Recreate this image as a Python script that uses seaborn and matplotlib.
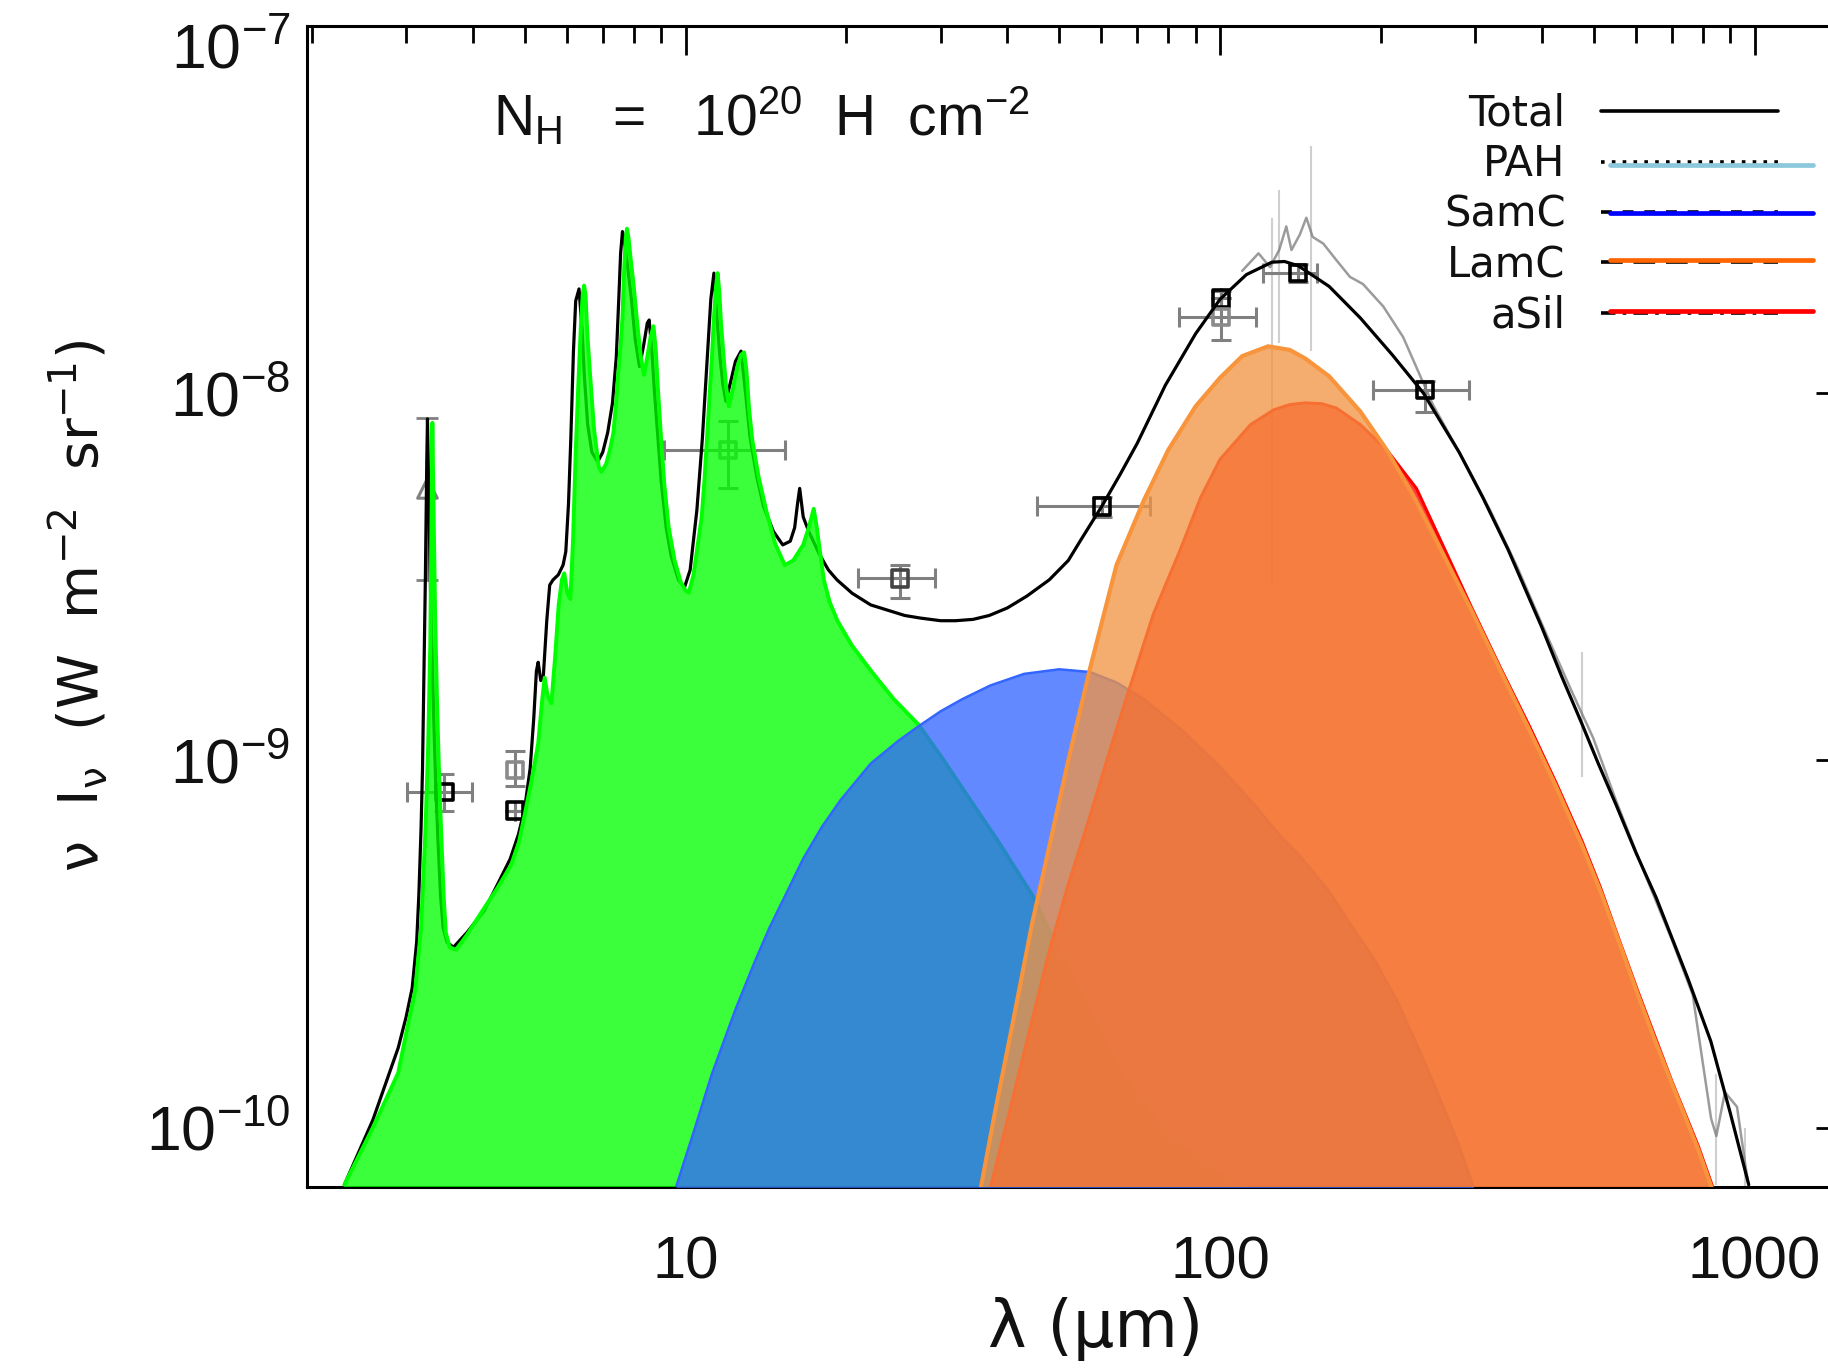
import matplotlib
matplotlib.use("Agg")
import matplotlib.pyplot as plt
import seaborn as sns
from matplotlib.lines import Line2D
from matplotlib.legend_handler import HandlerTuple, HandlerLine2D
from matplotlib.ticker import FixedLocator, FixedFormatter, LogLocator, NullFormatter

# ---------------- data (wavelength in micron, nu I_nu in W m^-2 sr^-1) ----------------
total_wl = [2.30, 2.60, 2.90, 3.00, 3.08, 3.14, 3.17, 3.20, 3.22, 3.24, 3.26, 3.28, 3.29, 3.31,
            3.34, 3.38, 3.41, 3.44, 3.48, 3.52, 3.58, 3.68, 3.90, 4.20, 4.45, 4.70, 4.87, 5.00,
            5.12, 5.20, 5.26, 5.30, 5.36, 5.42, 5.50, 5.57, 5.65, 5.78, 5.90, 5.97, 6.04, 6.10,
            6.17, 6.23, 6.32, 6.40, 6.47, 6.56, 6.68, 6.85, 7.00, 7.15, 7.30, 7.42, 7.50, 7.56,
            7.62, 7.68, 7.78, 7.92, 8.05, 8.20, 8.35, 8.48, 8.55, 8.65, 8.75, 8.90, 9.00, 9.20,
            9.40, 9.70, 9.95, 10.2, 10.5, 10.75, 10.9, 11.0, 11.15, 11.3, 11.45, 11.6, 11.75,
            11.9, 12.1, 12.4, 12.7, 12.95, 13.2, 13.6, 14.0, 14.6, 15.2, 15.7, 16.0, 16.2, 16.35,
            16.6, 17.0, 17.8, 18.5, 19.2, 20.5, 22.2, 25.7, 27.5, 30.0, 32.0, 34.5, 37.0, 40.0,
            43.5, 47.9, 52.0, 55.0, 60.0, 65.0, 70.0, 79.0, 90.0, 100, 112, 125, 132, 140, 160,
            183, 210, 240, 280, 310, 346, 400, 435, 475, 510, 550, 600, 654, 750, 828, 900, 975]
total_val = [7.0e-11, 1.05e-10, 1.65e-10, 2.0e-10, 2.4e-10, 3.2e-10, 4.3e-10, 6.5e-10, 9.4e-10,
             1.7e-9, 3.1e-9, 6.5e-9, 8.5e-9, 5.0e-9,
             2.5e-9, 1.3e-9, 8.5e-10, 6.2e-10, 4.3e-10, 3.5e-10, 3.2e-10, 3.1e-10, 3.4e-10,
             3.9e-10, 4.6e-10, 5.4e-10, 6.3e-10, 7.4e-10,
             9.5e-10, 1.3e-9, 1.75e-9, 1.85e-9, 1.65e-9, 1.7e-9, 2.4e-9, 3.0e-9, 3.1e-9, 3.2e-9,
             3.4e-9, 3.7e-9, 5.0e-9, 7.5e-9,
             1.3e-8, 1.78e-8, 1.92e-8, 1.5e-8, 1.1e-8, 8.2e-9, 6.9e-9, 6.5e-9, 6.9e-9, 7.8e-9,
             9.4e-9, 1.25e-8, 1.8e-8, 2.4e-8,
             2.75e-8, 2.6e-8, 2.25e-8, 1.8e-8, 1.4e-8, 1.18e-8, 1.35e-8, 1.55e-8, 1.58e-8,
             1.3e-8, 1.0e-8, 7.2e-9, 5.8e-9, 4.3e-9,
             3.6e-9, 3.1e-9, 2.95e-9, 3.3e-9, 4.8e-9, 7.5e-9, 1.05e-8, 1.3e-8, 1.8e-8, 2.12e-8,
             1.6e-8, 1.25e-8, 1.05e-8,
             9.5e-9, 1.05e-8, 1.22e-8, 1.3e-8, 1.0e-8, 7.6e-9, 5.9e-9, 4.9e-9, 4.2e-9, 3.86e-9,
             3.95e-9, 4.3e-9, 5.0e-9, 5.5e-9,
             4.6e-9, 4.2e-9, 3.64e-9, 3.3e-9, 3.1e-9, 2.85e-9, 2.65e-9, 2.48e-9, 2.44e-9, 2.4e-9,
             2.4e-9, 2.42e-9, 2.48e-9, 2.6e-9,
             2.8e-9, 3.1e-9, 3.5e-9, 4.0e-9, 4.9e-9, 6.0e-9, 7.3e-9, 1.05e-8, 1.45e-8, 1.8e-8,
             2.1e-8, 2.27e-8, 2.28e-8, 2.22e-8, 1.95e-8,
             1.6e-8, 1.27e-8, 1.0e-8, 6.9e-9, 5.2e-9, 3.74e-9, 2.3e-9, 1.7e-9, 1.26e-9, 9.8e-10,
             7.6e-10, 5.6e-10, 4.24e-10, 2.55e-10, 1.72e-10, 1.1e-10, 7.0e-11]

pah_wl = [2.30, 2.60, 2.90, 3.00, 3.12, 3.20, 3.26, 3.30, 3.33, 3.35, 3.36, 3.38, 3.40, 3.43,
          3.46, 3.49, 3.53, 3.56, 3.62, 3.72, 3.90, 4.19, 4.45, 4.72, 4.88, 5.00, 5.15, 5.30,
          5.39, 5.45, 5.52, 5.61, 5.70, 5.79, 5.87, 5.93, 6.01, 6.09, 6.16, 6.23, 6.30, 6.37,
          6.42, 6.46, 6.50, 6.55, 6.62, 6.74, 6.88, 6.96, 7.10, 7.22, 7.33, 7.42, 7.49, 7.56,
          7.62, 7.68, 7.73, 7.77, 7.82, 7.90, 8.00, 8.12, 8.25, 8.36, 8.48, 8.60, 8.71, 8.80,
          8.87, 9.00, 9.13, 9.30, 9.54, 9.80, 10.0, 10.14, 10.35, 10.55, 10.72, 10.85, 10.96,
          11.1, 11.2, 11.3, 11.40, 11.48, 11.56, 11.65, 11.79, 11.9, 12.05, 12.25, 12.5, 12.7,
          12.87, 13.0, 13.15, 13.34, 13.7, 14.15, 14.7, 15.33, 15.9, 16.6, 17.0, 17.37, 17.6,
          18.14, 18.6, 19.23, 20.5, 22.25, 24.5, 27.3, 30.0, 33.6, 38.5, 44.7, 50.0, 55.0, 65.0,
          80.0, 100, 120]
pah_val = [7.0e-11, 1.0e-10, 1.41e-10, 1.8e-10, 2.36e-10, 3.5e-10, 6.35e-10, 1.1e-9, 2.09e-9,
           5.0e-9, 8.3e-9, 4.5e-9, 2.5e-9, 1.4e-9,
           9.0e-10, 6.35e-10, 4.2e-10, 3.4e-10, 3.1e-10, 3.05e-10, 3.35e-10, 3.94e-10, 4.5e-10,
           5.2e-10, 6.0e-10, 7.1e-10, 8.8e-10, 1.11e-9,
           1.45e-9, 1.68e-9, 1.5e-9, 1.43e-9, 1.9e-9, 2.65e-9, 3.1e-9, 3.23e-9, 2.85e-9, 2.75e-9,
           4.0e-9, 6.9e-9, 1.05e-8, 1.52e-8,
           1.85e-8, 1.96e-8, 1.85e-8, 1.45e-8, 1.15e-8, 8.0e-9, 6.3e-9, 6.1e-9, 6.4e-9, 7.0e-9,
           7.8e-9, 9.5e-9, 1.15e-8, 1.35e-8,
           1.6e-8, 2.2e-8, 2.65e-8, 2.8e-8, 2.65e-8, 2.3e-8, 1.95e-8, 1.55e-8, 1.25e-8, 1.12e-8,
           1.25e-8, 1.42e-8, 1.52e-8, 1.3e-8,
           1.05e-8, 7.5e-9, 5.6e-9, 4.3e-9, 3.5e-9, 3.05e-9, 2.9e-9, 2.86e-9, 3.2e-9, 3.9e-9,
           4.6e-9, 5.8e-9, 7.4e-9,
           1.0e-8, 1.24e-8, 1.6e-8, 1.95e-8, 2.12e-8, 1.9e-8, 1.55e-8, 1.24e-8, 1.05e-8, 9.2e-9,
           1.02e-8, 1.18e-8, 1.27e-8,
           1.29e-8, 1.15e-8, 9.0e-9, 7.4e-9, 5.9e-9, 4.8e-9, 3.9e-9, 3.4e-9, 3.5e-9, 3.86e-9,
           4.3e-9, 4.84e-9, 4.3e-9,
           3.1e-9, 2.7e-9, 2.4e-9, 2.05e-9, 1.75e-9, 1.47e-9, 1.25e-9, 1.03e-9, 8.05e-10,
           6.0e-10, 4.26e-10, 3.0e-10, 2.3e-10, 1.4e-10,
           9.5e-11, 7.4e-11, 6.5e-11]

samc_wl = [9.6, 10.3, 11.2, 12.4, 13.5, 14.35, 15.5, 16.6, 18.0, 19.5, 22.2, 25.0, 27.1, 30.0,
           33.0, 37.2, 43.0, 50.0, 57.1, 64.0, 72.0, 85.3, 100, 114, 130, 141, 160, 175, 195,
           215, 235, 255, 278, 298]
samc_val = [6.9e-11, 9.5e-11, 1.4e-10, 2.1e-10, 2.85e-10, 3.5e-10, 4.4e-10, 5.4e-10, 6.6e-10,
            7.8e-10, 9.8e-10, 1.13e-9, 1.23e-9, 1.36e-9,
            1.47e-9, 1.6e-9, 1.72e-9, 1.77e-9, 1.74e-9, 1.63e-9, 1.47e-9, 1.2e-9, 9.6e-10,
            7.8e-10, 6.2e-10, 5.5e-10, 4.4e-10, 3.6e-10, 2.85e-10,
            2.2e-10, 1.65e-10, 1.25e-10, 9.2e-11, 6.9e-11]

lamc_wl = [35.7, 38.0, 41.0, 44.5, 48.0, 52.0, 57.0, 64.0, 72.0, 80.0, 90.0, 100, 110, 123, 135,
           144.5, 160, 183, 205, 230, 260, 295, 335, 380, 425, 475, 515, 560, 605, 654, 700,
           740, 785, 830]
lamc_val = [6.9e-11, 1.12e-10, 1.95e-10, 3.6e-10, 5.9e-10, 1.0e-9, 1.76e-9, 3.4e-9, 5.1e-9,
            7.0e-9, 9.2e-9, 1.1e-8, 1.26e-8, 1.34e-8, 1.31e-8,
            1.24e-8, 1.11e-8, 8.9e-9, 7.0e-9, 5.25e-9, 3.7e-9, 2.57e-9, 1.75e-9, 1.2e-9, 8.5e-10,
            5.9e-10, 4.4e-10, 3.15e-10, 2.3e-10, 1.7e-10, 1.32e-10,
            1.08e-10, 8.7e-11, 6.9e-11]

asil_wl = [37.2, 40.0, 42.5, 45.0, 48.1, 52.0, 57.0, 62.0, 67.0, 75.0, 84.2, 92.0, 100, 114, 126,
           135, 144.5, 155, 165, 183, 205, 233, 260, 295, 335, 380, 425, 475, 515, 560, 605,
           654, 700, 740, 785, 835]
asil_val = [6.9e-11, 1.05e-10, 1.5e-10, 2.1e-10, 3.1e-10, 4.6e-10, 7.0e-10, 1.05e-9, 1.5e-9,
            2.5e-9, 3.74e-9, 5.2e-9, 6.6e-9, 8.2e-9, 9.0e-9,
            9.3e-9, 9.4e-9, 9.35e-9, 9.1e-9, 8.2e-9, 7.0e-9, 5.5e-9, 3.9e-9, 2.62e-9, 1.78e-9,
            1.23e-9, 8.7e-10, 6.05e-10, 4.5e-10, 3.2e-10, 2.35e-10,
            1.74e-10, 1.34e-10, 1.1e-10, 8.9e-11, 6.9e-11]

# photometric points
phot_wl = [3.54, 4.8, 4.8, 12.0, 25.2, 60.1, 100.4, 100.4, 140, 242]
phot_val = [8.2e-10, 7.3e-10, 9.4e-10, 7.0e-9, 3.13e-9, 4.91e-9, 1.81e-8, 1.61e-8, 2.12e-8, 1.02e-8]
phot_xlo = [3.01, 4.8, 4.8, 9.13, 21.0, 45.5, 100.4, 83.7, 120.5, 193.6]
phot_xhi = [3.98, 4.8, 4.8, 15.33, 29.3, 74.0, 100.4, 116.6, 152, 291.7]
phot_ylo = [7.3e-10, 7.3e-10, 8.5e-10, 5.5e-9, 2.76e-9, 4.6e-9, 1.81e-8, 1.39e-8, 2.0e-8, 8.9e-9]
phot_yhi = [9.2e-10, 7.3e-10, 1.06e-9, 8.4e-9, 3.4e-9, 5.2e-9, 1.81e-8, 1.9e-8, 2.25e-8, 1.08e-8]
phot_edge = ["black", "black", "#8a8a8a", "#8a8a8a", "#444444", "black", "black", "#8a8a8a",
             "black", "black"]

tri_wl = [3.29]
tri_val = [5.5e-9]
tri_ylo = [3.1e-9]
tri_yhi = [8.55e-9]

# far-IR spectrum (grey)
firas_wl = [110, 118, 124, 129, 133, 136, 141, 145, 149, 156, 165, 175, 185, 202, 220, 250, 290,
            320, 360, 400, 454, 499, 550, 620, 700, 766, 800, 829, 848, 880, 927, 960, 990]
firas_val = [2.15e-8, 2.4e-8, 2.2e-8, 2.45e-8, 2.84e-8, 2.45e-8, 2.7e-8, 3.0e-8, 2.66e-8, 2.55e-8,
             2.3e-8, 2.07e-8, 1.98e-8, 1.72e-8, 1.42e-8, 9.3e-9, 6.3e-9,
             4.8e-9, 3.35e-9, 2.35e-9, 1.55e-9, 1.15e-9, 7.8e-10, 5.0e-10, 3.25e-10, 2.3e-10,
             1.5e-10, 1.06e-10, 9.5e-11, 1.25e-10, 1.14e-10, 8.0e-11, 6.0e-11]
firas_err_wl = [125, 129, 148, 475, 848, 960]
firas_err_lo = [3.0e-9, 1.37e-8, 1.3e-8, 9.0e-10, 7.0e-11, 6.9e-11]
firas_err_hi = [3.0e-8, 3.57e-8, 4.7e-8, 1.97e-9, 1.4e-10, 1.0e-10]

legend_labels = ["Total", "PAH", "SamC", "LamC", "aSil"]
legend_black_styles = ["-", (0, (1, 2)), (0, (3, 3)), (0, (6, 3)), (0, (4, 2, 1, 2))]
legend_colours = [None, "#8CC8DC", "#0000FF", "#FF6600", "#FF0000"]
x_ticks = [10, 100, 1000]
x_tick_labels = ["10", "100", "1000"]
y_ticks = [1e-10, 1e-9, 1e-8, 1e-7]
y_tick_labels = [r"$10^{-10}$", r"$10^{-9}$", r"$10^{-8}$", ""]
top_label = r"$10^{-7}$"

# ---------------- style ----------------
sns.set_theme(style="white")
plt.rcParams["font.family"] = ["Liberation Sans", "DejaVu Sans"]
plt.rcParams["mathtext.fontset"] = "custom"
plt.rcParams["mathtext.rm"] = "Liberation Sans"
plt.rcParams["mathtext.it"] = "Liberation Sans:italic"
plt.rcParams["mathtext.default"] = "regular"

fig = plt.figure(figsize=(18.28, 13.72), dpi=100)
ax = fig.add_axes([307 / 1828, 1 - 1187 / 1372, (1845 - 307) / 1828, (1187 - 25.6) / 1372])
ax.set_xscale("log")
ax.set_yscale("log")

# grey far-IR spectrum and its error bars
ax.vlines(firas_err_wl, firas_err_lo, firas_err_hi, color="#a0a0a0", lw=1.5, alpha=0.5, zorder=1)
sns.lineplot(x=firas_wl, y=firas_val, ax=ax, color="#7a7a7a", lw=1.8, alpha=0.75,
             estimator=None, sort=False, zorder=1.5)

# photometry
for i in range(len(phot_wl)):
    xe = [[phot_wl[i] - phot_xlo[i]], [phot_xhi[i] - phot_wl[i]]]
    ye = [[phot_val[i] - phot_ylo[i]], [phot_yhi[i] - phot_val[i]]]
    ax.errorbar([phot_wl[i]], [phot_val[i]], xerr=xe, yerr=ye, fmt="none", ecolor="#808080",
                elinewidth=2.2, capsize=7, capthick=2.2, zorder=2)
for i in range(len(phot_wl)):
    ax.scatter([phot_wl[i]], [phot_val[i]], marker="s", s=140, facecolors="none",
               edgecolors=phot_edge[i], linewidths=2.6, zorder=2.5)
ax.errorbar(tri_wl, tri_val, yerr=[[tri_val[0] - tri_ylo[0]], [tri_yhi[0] - tri_val[0]]],
            fmt="none", ecolor="#808080", elinewidth=2, capsize=8, capthick=2, zorder=2)
ax.scatter(tri_wl, tri_val, marker="^", s=200, facecolors="none", edgecolors="#808080",
           linewidths=2.2, zorder=2.5)

# total model
sns.lineplot(x=total_wl, y=total_val, ax=ax, color="black", lw=2.3, estimator=None, zorder=3)

# component fills
base = 1e-12
ax.fill_between(pah_wl, pah_val, base, color="#00FF00", alpha=0.77, lw=0, zorder=4)
sns.lineplot(x=pah_wl, y=pah_val, ax=ax, color="#00FF00", lw=2.8, estimator=None, zorder=4.1)

ax.fill_between(samc_wl, samc_val, base, color="#3366FF", alpha=0.77, lw=0, zorder=5)
sns.lineplot(x=samc_wl, y=samc_val, ax=ax, color="#3366FF", lw=1.8, estimator=None, zorder=5.1)

sns.lineplot(x=asil_wl, y=asil_val, ax=ax, color="#FF0000", lw=2.2, estimator=None, zorder=5.9)
ax.fill_between(asil_wl, asil_val, base, color="#FF0000", alpha=0.76, lw=0, zorder=6)

ax.fill_between(lamc_wl, lamc_val, base, color="#F29442", alpha=0.76, lw=0, zorder=7)
sns.lineplot(x=lamc_wl, y=lamc_val, ax=ax, color="#F7943C", lw=3.0, estimator=None, zorder=7.1)

# ---------------- axes ----------------
ax.set_xlim(1.958, 1476)
ax.set_ylim(6.9e-11, 1.0e-7)
ax.xaxis.set_major_locator(FixedLocator(x_ticks))
ax.xaxis.set_major_formatter(FixedFormatter(x_tick_labels))
ax.xaxis.set_minor_locator(LogLocator(base=10, subs=range(2, 10), numticks=20))
ax.xaxis.set_minor_formatter(NullFormatter())
ax.yaxis.set_major_locator(FixedLocator(y_ticks))
ax.yaxis.set_major_formatter(FixedFormatter(y_tick_labels))
ax.yaxis.set_minor_locator(LogLocator(base=10, subs=range(2, 10), numticks=20))
ax.yaxis.set_minor_formatter(NullFormatter())

ax.tick_params(which="both", direction="in", top=True, right=True, color="black",
               width=2.0, labelcolor="#111111")
ax.tick_params(which="major", length=21)
ax.tick_params(which="minor", length=12)
ax.tick_params(axis="x", which="major", pad=35, labelsize=43)
ax.tick_params(axis="y", which="major", pad=12, labelsize=45)
for s in ax.spines.values():
    s.set_linewidth(2.2)
    s.set_color("black")
ax.grid(False)

ax.annotate(top_label, xy=(0, 1e-7), xycoords=ax.get_yaxis_transform(),
            xytext=(-12, -14), textcoords="offset points", ha="right", va="center_baseline",
            fontsize=45, color="#111111", annotation_clip=False)

ax.set_xlabel("λ (μm)", fontsize=47, family=["DejaVu Sans"], color="#111111")
ax.xaxis.set_label_coords(0.513, -0.095)
ax.set_ylabel(r"$\nu$  I$_{\nu}$  (W  m$^{-2}$  sr$^{-1}$)", fontsize=40,
              family=["DejaVu Sans"], color="#111111")
ax.yaxis.set_label_coords(-0.128, 0.5)

fig.text(761 / 1828, 1 - 117 / 1372, r"N$_{H}$   =   10$^{20}$  H  cm$^{-2}$", ha="center",
         va="center", fontsize=41, color="#111111")


# legend: black model line on the left part of the handle, coloured line shifted to the right
class PartLine(HandlerLine2D):
    def __init__(self, f0, f1, dy=0.0, **kw):
        super().__init__(**kw)
        self.f0, self.f1, self.dy = f0, f1, dy

    def create_artists(self, legend, orig_handle, xdescent, ydescent, width, height,
                       fontsize, trans):
        arts = super().create_artists(legend, orig_handle, xdescent, ydescent, width, height,
                                      fontsize, trans)
        x0 = -xdescent + width * self.f0
        x1 = -xdescent + width * self.f1
        y = (height - ydescent) / 2 + self.dy
        for a in arts:
            n = len(a.get_xdata())
            if n >= 2:
                a.set_xdata([x0 + (x1 - x0) * k / (n - 1) for k in range(n)])
                a.set_ydata([y] * n)
        return arts


colour_dy = [0.0, -2.0, -0.8, 1.5, 1.5]
handles = []
hmap = {tuple: HandlerTuple(ndivide=1)}
for i in range(len(legend_labels)):
    blk = Line2D([], [], color="black", lw=2.6, ls=legend_black_styles[i])
    hmap[blk] = PartLine(0.0, 0.836)
    if legend_colours[i] is None:
        handles.append((blk,))
    else:
        col = Line2D([], [], color=legend_colours[i], lw=3.4)
        hmap[col] = PartLine(0.044, 1.0, dy=colour_dy[i])
        handles.append((blk, col))

leg = ax.legend(handles, legend_labels, handler_map=hmap,
                loc="upper right", bbox_to_anchor=(1813 / 1828, 1 - 93 / 1372),
                bbox_transform=fig.transFigure, frameon=False, markerfirst=False,
                handlelength=5.1, handletextpad=0.84, labelspacing=0.2, borderpad=0,
                borderaxespad=0, prop={"family": "DejaVu Sans", "size": 30})
for t in leg.get_texts():
    t.set_color("#111111")
leg.set_zorder(10)

fig.savefig("out.png", dpi=100)
